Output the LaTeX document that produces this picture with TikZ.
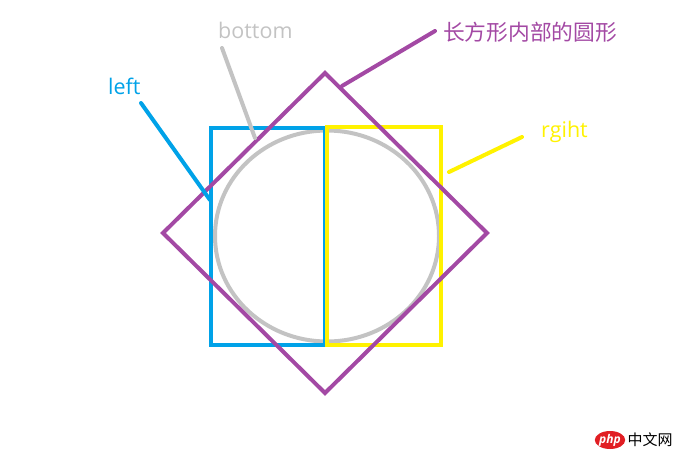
\documentclass[tikz,border=0pt]{standalone}
\usepackage{fontspec}
\setmainfont{Open Sans}
\newfontfamily\cjk{Noto Sans CJK SC}
\usetikzlibrary{shapes.geometric,positioning}
\definecolor{pblue}{RGB}{0,162,232}
\definecolor{pyellow}{RGB}{255,242,0}
\definecolor{ppurple}{RGB}{163,73,164}
\definecolor{pgray}{RGB}{195,195,195}
\definecolor{pred}{RGB}{225,30,35}
\tikzstyle{frame}=[line width=4pt,inner sep=0pt,outer sep=0pt]
\tikzstyle{lbl}=[inner sep=0pt,anchor=base west,font=\fontsize{21.5}{26}\selectfont]
\tikzstyle{lead}=[line width=4pt,line cap=round]
\begin{document}
\begin{tikzpicture}[x=1pt,y=-1pt]
\useasboundingbox (0,0) rectangle (692,460);
% shapes
\node (circ) [frame,ellipse,draw=pgray,minimum width=224pt,minimum height=211pt] at (327,236) {};
\node (lrect) [frame,rectangle,draw=pblue,minimum width=114pt,minimum height=217pt] at (268,236) {};
\node (rrect) [frame,rectangle,draw=pyellow,minimum width=114pt,minimum height=218pt] at (384,236) {};
\node (dia) [frame,diamond,draw=ppurple,minimum width=324pt,minimum height=320pt] at (325,233) {};
% labels
\node (bottomlbl) [lbl,text=pgray] at (218,39) {bottom};
\node (leftlbl) [lbl,text=pblue] at (108,94) {left};
\node (rightlbl) [lbl,text=pyellow] at (541,137) {rgiht};
\node (circlbl) [lbl,text=ppurple,font=\cjk\fontsize{21.75}{26}\selectfont] at (443,41) {长方形内部的圆形};
% leader lines
\coordinate (bottomtip) at (222,48);
\coordinate (bottomend) at (255,138);
\coordinate (lefttip) at (141,103);
\coordinate (leftend) at (210,200);
\coordinate (righttip) at (522,137);
\coordinate (rightend) at (449,172);
\coordinate (circtip) at (435,31);
\coordinate (circend) at (342,86);
\draw [lead,pgray] (bottomtip) -- (bottomend);
\draw [lead,pblue] (lefttip) -- (leftend);
\draw [lead,pyellow] (righttip) -- (rightend);
\draw [lead,ppurple] (circtip) -- (circend);
% watermark
\node (logo) [ellipse,fill=pred,minimum width=30pt,minimum height=18pt,inner sep=0pt,text=white,font=\bfseries\itshape\fontsize{12}{12}\selectfont] at (610,440) {php};
\node (logotext) [right=2pt of logo,inner sep=0pt,font=\cjk\fontsize{15}{15}\selectfont] {中文网};
\end{tikzpicture}
\end{document}
